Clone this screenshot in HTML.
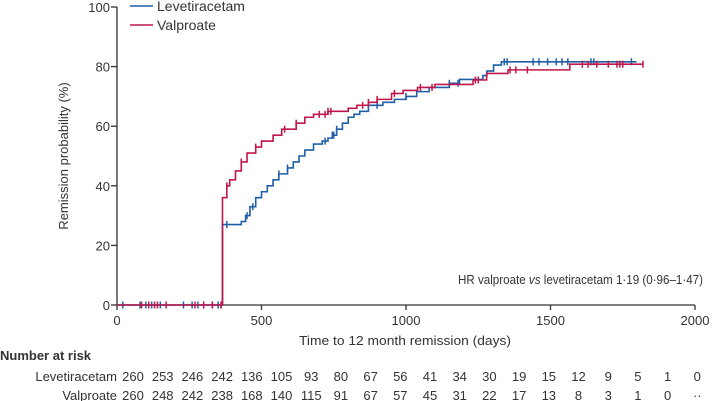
<!DOCTYPE html>
<html><head><meta charset="utf-8"><style>
body{margin:0;background:#fff;width:714px;height:401px;overflow:hidden}
svg{display:block;font-family:"Liberation Sans",sans-serif;fill:#333}
</style></head><body>
<svg id="chart" width="714" height="401" viewBox="0 0 714 401" xmlns="http://www.w3.org/2000/svg">
<g id="axes"></g>
<g id="series"></g>
<g>
<line x1="130" y1="6" x2="153" y2="6" stroke="#1f5fa8" stroke-width="1.6"/>
<text x="157" y="11" font-size="14">Levetiracetam</text>
<line x1="130" y1="25" x2="153" y2="25" stroke="#c0174a" stroke-width="1.6"/>
<text x="157" y="30" font-size="14">Valproate</text>
</g>
<text x="458" y="284" font-size="13" textLength="245" lengthAdjust="spacingAndGlyphs">HR valproate <tspan font-style="italic">vs</tspan> levetiracetam 1·19 (0·96–1·47)</text>
<text transform="translate(68,156) rotate(-90)" text-anchor="middle" font-size="13">Remission probability (%)</text>
<text x="405" y="345" text-anchor="middle" font-size="13" textLength="212" lengthAdjust="spacingAndGlyphs">Time to 12 month remission (days)</text>
<text x="0" y="360" font-size="13" font-weight="bold">Number at risk</text>
<g id="risk"></g>
</svg>
<script>
const xTicks=[0,500,1000,1500,2000];
const yTicks=[0,20,40,60,80,100];
const levSteps=[[0,0],[365,27],[430,28],[445,30],[460,33],[480,36],[500,38],[520,40],[540,42],[560,44],[590,46],[610,48],[630,50],[650,52],[680,54],[710,55],[730,56],[745,57],[760,59],[780,61],[800,63],[820,64],[840,65],[870,67],[920,68],[960,69],[1000,70],[1037,71.6],[1080,73],[1150,74.4],[1185,75.7],[1266,77],[1280,78.5],[1303,80.5],[1330,81.6],[1798,81.6]];
const valSteps=[[0,0],[365,36],[380,40],[390,42],[410,45],[430,48],[450,51],[480,53],[500,55],[540,57],[570,59],[620,61],[650,63],[680,64],[730,65],[800,66],[830,67],[870,68],[900,69],[950,71],[990,72],[1040,73],[1100,74],[1232,75.5],[1279,77.7],[1353,78.9],[1567,80.8],[1820,80.8]];
const levCensor=[20,80,100,120,150,230,260,280,330,350,360,380,450,470,560,590,720,745,750,760,900,1000,1150,1180,1340,1350,1440,1460,1490,1520,1540,1560,1640,1650,1780];
const valCensor=[85,110,130,140,170,270,300,330,360,380,430,480,580,620,700,720,730,740,850,870,900,960,1050,1090,1240,1250,1360,1380,1420,1610,1630,1660,1700,1730,1740,1750,1820];
const riskLabels=["Levetiracetam","Valproate"];
const riskLev=["260","253","246","242","136","105","93","80","67","56","41","34","30","19","15","12","9","5","1","0"];
const riskVal=["260","248","242","238","168","140","115","91","67","57","45","31","22","17","13","8","3","1","0","··"];
const X0=117,X1=695,Y0=305,Y1=7;
const sx=d=>X0+(X1-X0)*d/2000, sy=v=>Y0-(Y0-Y1)*v/100;
const NS="http://www.w3.org/2000/svg";
function mk(tag,attrs,parent){const e=document.createElementNS(NS,tag);for(const k in attrs)e.setAttribute(k,attrs[k]);parent.appendChild(e);return e;}
const axes=document.getElementById('axes');
let a=mk('line',{x1:X0,y1:Y1,x2:X0,y2:Y0,stroke:'#333','stroke-width':1.3},axes);


a=mk('line',{x1:X0,y1:Y0,x2:X1,y2:Y0,stroke:'#333','stroke-width':1.3},axes);


yTicks.forEach(v=>{
 const t=mk('line',{x1:X0-6,x2:X0,y1:sy(v),y2:sy(v),stroke:'#333','stroke-width':1.3},axes);
 
 
 const l=mk('text',{x:X0-7,y:sy(v)+5,'text-anchor':'end','font-size':13},axes);l.textContent=v;
 
 
});
xTicks.forEach(v=>{
 const t=mk('line',{x1:sx(v),x2:sx(v),y1:Y0,y2:Y0+5,stroke:'#333','stroke-width':1.3},axes);
 
 
 const l=mk('text',{x:sx(v),y:Y0+20,'text-anchor':'middle','font-size':13},axes);l.textContent=v;
 
 
});
function stepVal(steps,d){let v=0;for(const s of steps){if(s[0]<=d)v=s[1];}return v;}
const ser=document.getElementById('series');
function drawSeries(steps,cens,color,name){
 let p='M'+sx(steps[0][0])+','+sy(steps[0][1]);
 for(let i=1;i<steps.length;i++){p+=' H'+sx(steps[i][0])+' V'+sy(steps[i][1]);}
 const path=mk('path',{d:p,fill:'none',stroke:color,'stroke-width':1.6},ser);
 
 
 cens.forEach(d=>{
  const y=sy(stepVal(steps,d));
  const c=mk('line',{x1:sx(d),x2:sx(d),y1:y-3.5,y2:y+3.5,stroke:color,'stroke-width':1.5},ser);
  
  
 });
}
drawSeries(levSteps,levCensor,'#1f5fa8','levetiracetam');
drawSeries(valSteps,valCensor,'#c0174a','valproate');
const risk=document.getElementById('risk');
[[riskLev,381],[riskVal,400]].forEach((r,ri)=>{
 const lab=mk('text',{x:117,y:r[1],'text-anchor':'end','font-size':13},risk);lab.textContent=riskLabels[ri];
 
 
 r[0].forEach((n,i)=>{
  const t=mk('text',{x:133+i*29.7,y:r[1],'text-anchor':'middle','font-size':13},risk);t.textContent=n;
  
  
 });
});
</script>
</body></html>
